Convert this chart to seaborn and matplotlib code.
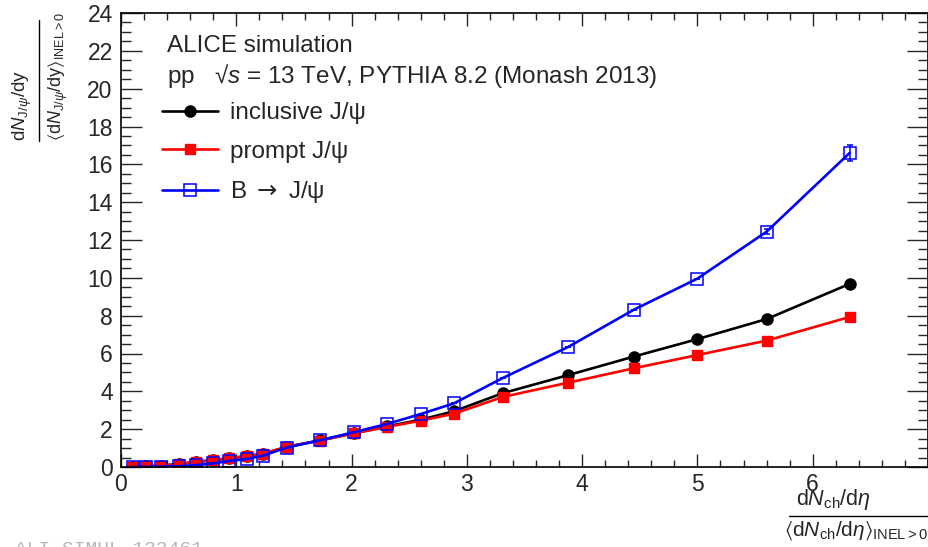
import numpy as np
import pandas as pd
import matplotlib
matplotlib.use("Agg")
import matplotlib.pyplot as plt
from matplotlib.lines import Line2D
import seaborn as sns
from matplotlib.ticker import MultipleLocator

# ---------------- data ----------------
mult = [0.10, 0.22, 0.35, 0.50, 0.65, 0.80, 0.94, 1.09, 1.23, 1.44, 1.73,
        2.02, 2.31, 2.60, 2.89, 3.31, 3.88, 4.45, 5.00, 5.60, 6.32]
inclusive = [0.01, 0.03, 0.07, 0.16, 0.26, 0.36, 0.46, 0.57, 0.69, 1.07, 1.41,
             1.79, 2.15, 2.50, 2.95, 3.90, 4.86, 5.84, 6.76, 7.82, 9.68]
prompt = [0.01, 0.03, 0.07, 0.16, 0.27, 0.37, 0.47, 0.58, 0.70, 1.07, 1.40,
          1.78, 2.12, 2.45, 2.82, 3.70, 4.46, 5.22, 5.92, 6.68, 7.93]
nonprompt = [0.00, 0.01, 0.02, 0.04, 0.10, 0.19, 0.32, 0.42, 0.60, 1.03, 1.42,
             1.84, 2.28, 2.80, 3.37, 4.70, 6.35, 8.32, 9.96, 12.44, 16.60]
nonprompt_err = [0.00, 0.00, 0.00, 0.00, 0.00, 0.00, 0.00, 0.00, 0.00, 0.00, 0.00,
                 0.00, 0.00, 0.00, 0.00, 0.00, 0.00, 0.00, 0.00, 0.12, 0.40]
labels = ["inclusive J/ψ", "prompt J/ψ", r"B $\mathsf{\rightarrow}$ J/ψ"]
xticks = [0, 1, 2, 3, 4, 5, 6]

df = pd.DataFrame({"x": mult, "incl": inclusive, "prompt": prompt,
                   "b": nonprompt, "berr": nonprompt_err})

# ---------------- style ----------------
sns.set_style("white")
plt.rcParams["font.family"] = ["Liberation Sans", "DejaVu Sans"]
plt.rcParams["mathtext.fontset"] = "custom"
plt.rcParams["mathtext.rm"] = "Liberation Sans"
plt.rcParams["mathtext.it"] = "Liberation Sans:italic"
plt.rcParams["mathtext.bf"] = "Liberation Sans:bold"
plt.rcParams["mathtext.sf"] = "DejaVu Sans"
plt.rcParams["mathtext.fallback"] = "stixsans"

W, H = 929, 547
fig = plt.figure(figsize=(W / 100, H / 100), dpi=100)
ax = fig.add_axes([121 / W, 1 - 467 / H, (928 - 121) / W, (467 - 13) / H])

lw = 1.9
sns.lineplot(data=df, x="x", y="incl", ax=ax, color="black", lw=lw,
             marker="o", markersize=8, markeredgecolor="black",
             markerfacecolor="black", markeredgewidth=1, label=labels[0])
sns.lineplot(data=df, x="x", y="prompt", ax=ax, color="#ff0000", lw=lw,
             marker="s", markersize=7.5, markeredgecolor="#ff0000",
             markerfacecolor="#ff0000", markeredgewidth=1, label=labels[1])
sns.lineplot(data=df, x="x", y="b", ax=ax, color="#0000ff", lw=lw,
             marker="s", markersize=9, markeredgecolor="#0000ff",
             markerfacecolor="none", markeredgewidth=1.1, label=labels[2])
ax.errorbar(df["x"], df["b"], yerr=df["berr"], fmt="none", ecolor="#0000ff",
            elinewidth=1.1, capsize=2.5, capthick=1.1)

ax.set_xlim(0, 7)
ax.set_ylim(0, 24)
ax.set_xlabel("")
ax.set_ylabel("")
ax.set_xticks(xticks)
ax.set_xticklabels([str(t) for t in xticks])
ax.xaxis.set_minor_locator(MultipleLocator(0.2))
ax.yaxis.set_major_locator(MultipleLocator(2))
ax.yaxis.set_minor_locator(MultipleLocator(0.5))
ax.tick_params(axis="x", which="major", direction="in", length=9.5, width=1,
               top=True, bottom=True, labelsize=16.5, pad=4)
ax.tick_params(axis="x", which="minor", direction="in", length=5, width=1,
               top=True, bottom=True)
ax.tick_params(axis="y", which="major", direction="in", length=15, width=1,
               left=True, right=True, labelsize=16.5, pad=6)
ax.tick_params(axis="y", which="minor", direction="in", length=7.5, width=1,
               left=True, right=True)
for s in ax.spines.values():
    s.set_linewidth(1.2)
    s.set_color("black")

# texts
fs = 17.5
fig.text(167 / W, 1 - 46 / H, "ALICE simulation", fontsize=fs,
         va="center", ha="left")
fig.text(167 / W, 1 - 76 / H, r"pp   √$s$ = 13 TeV, PYTHIA 8.2 (Monash 2013)",
         fontsize=fs, va="center", ha="left")

leg = ax.legend(loc="upper left", bbox_to_anchor=(41 / 807, (467 - 102) / 454),
                frameon=False, fontsize=fs, handlelength=2.3,
                handletextpad=0.5, labelspacing=0.68, borderaxespad=0,
                borderpad=0)

# y-axis title (ROOT-like fraction, rotated)
yfs = 13
fig.text(22 / W, 1 - 141 / H,
         r"d$N_{\mathrm{J}/\psi}$/d$\mathrm{y}$",
         rotation=90, ha="center", va="bottom", fontsize=yfs + 0.5)
fig.text(58 / W, 1 - 141 / H,
         r"$\langle$d$N_{\mathrm{J}/\psi}$/d$\mathrm{y}\rangle_{\mathrm{INEL>0}}$",
         rotation=90, ha="center", va="bottom", fontsize=yfs)
fig.add_artist(Line2D([39 / W, 39 / W], [1 - 141 / H, 1 - 20 / H],
                      transform=fig.transFigure, color="black", lw=1.0))

# x-axis title (ROOT-like fraction)
xfs = 15
fig.text(833 / W, 1 - 499 / H, r"d$N_{\mathrm{ch}}$/d$\eta$",
         ha="center", va="center", fontsize=xfs + 0.5)
fig.text(928 / W, 1 - 531 / H,
         r"$\langle$d$N_{\mathrm{ch}}$/d$\eta\rangle_{\mathrm{INEL>0}}$",
         ha="right", va="center", fontsize=xfs)
fig.add_artist(Line2D([789 / W, 929 / W], [1 - 516 / H, 1 - 516 / H],
                      transform=fig.transFigure, color="black", lw=1.0))

fig.text(15 / W, 1 - 550 / H, "ALI-SIMUL-133461", color="#b8b8b8",
         family=["Liberation Mono", "DejaVu Sans Mono"], fontsize=14,
         ha="left", va="center")

fig.savefig("out.png", dpi=100)
